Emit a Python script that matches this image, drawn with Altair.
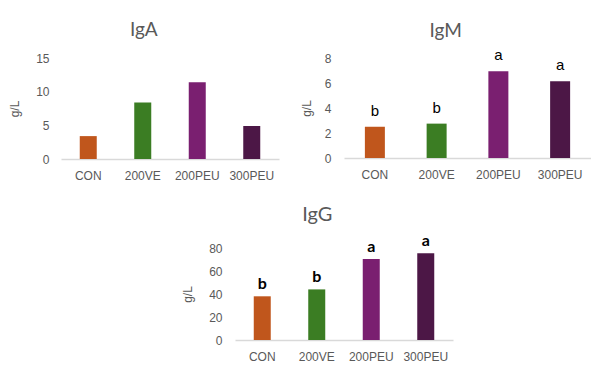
import altair as alt
import pandas as pd

groups = ["CON", "200VE", "200PEU", "300PEU"]
colors = ["#C0561C", "#3B7D23", "#7A1F70", "#4C1746"]

iga_values = [3.4, 8.4, 11.4, 4.9]
igm_values = [2.5, 2.75, 6.95, 6.15]
igg_values = [38, 44, 70.5, 75.5]

igm_letters = ["b", "b", "a", "a"]
igg_letters = ["b", "b", "a", "a"]

iga_ticks = [0, 5, 10, 15]
igm_ticks = [0, 2, 4, 6, 8]
igg_ticks = [0, 20, 40, 60, 80]

GRAY = "#595959"


def panel(values, letters, title, ticks, width, height, bar_size,
          label_pad, title_pad, letter_font, letter_weight, letter_size, letter_dy,
          title_offset, title_size):
    df = pd.DataFrame({
        "group": groups,
        "value": values,
        "letter": letters if letters else [""] * len(groups),
    })
    base = alt.Chart(df).encode(
        x=alt.X("group:N", sort=groups, title=None,
                scale=alt.Scale(paddingInner=0, paddingOuter=0),
                axis=alt.Axis(labelAngle=0, ticks=False, tickSize=0, labelPadding=11,
                              domainColor="#D9D9D9", domainWidth=1.3, grid=False)),
        y=alt.Y("value:Q", title="g/L",
                scale=alt.Scale(domain=[ticks[0], ticks[-1]], nice=False),
                axis=alt.Axis(values=ticks, domain=False, ticks=False, tickSize=0,
                              grid=False, labelPadding=label_pad, titlePadding=title_pad)),
    )
    bars = base.mark_bar(size=bar_size).encode(
        color=alt.Color("group:N", scale=alt.Scale(domain=groups, range=colors), legend=None)
    )
    layers = [bars]
    if letters:
        layers.append(
            base.mark_text(baseline="alphabetic", dy=letter_dy, font=letter_font,
                           fontWeight=letter_weight, fontSize=letter_size, color="#000000")
            .encode(text="letter:N")
        )
    return alt.layer(*layers).properties(
        width=width, height=height,
        title=alt.TitleParams(title, frame="bounds", anchor="middle", fontSize=title_size,
                              font="Lato", fontWeight="normal", color=GRAY,
                              offset=title_offset),
    )


iga = panel(iga_values, None, "IgA", iga_ticks, 218, 101, 17, 12, 14,
            "Liberation Sans", "normal", 15, -11, 12, 19)
igm = panel(igm_values, igm_letters, "IgM", igm_ticks, 247, 100, 20, 13, 11,
            "Liberation Sans", "normal", 15, -11, 7, 19)
igg = panel(igg_values, igg_letters, "IgG", igg_ticks, 218, 92, 17, 13, 14,
            "Lato", "bold", 16, -7, 8, 20)

spacer = alt.Chart(pd.DataFrame({"s": [0]})).mark_point(opacity=0).encode(
    x=alt.X("s:Q", axis=None), y=alt.Y("s:Q", axis=None)
).properties(width=120, height=1)

top = alt.hconcat(iga, igm, spacing=21)
bottom = alt.hconcat(spacer, igg, spacing=0)

chart = alt.vconcat(top, bottom, spacing=24).properties(
    padding={"left": 0, "top": 13, "right": 0, "bottom": 0}
).configure_view(
    stroke=None
).configure_axis(
    labelFont="Liberation Sans", labelFontSize=12, labelColor=GRAY,
    titleFont="Liberation Sans", titleFontSize=12, titleColor=GRAY, titleFontWeight="normal",
)

chart.save("out.html", embed_options={"renderer": "svg", "actions": False})
